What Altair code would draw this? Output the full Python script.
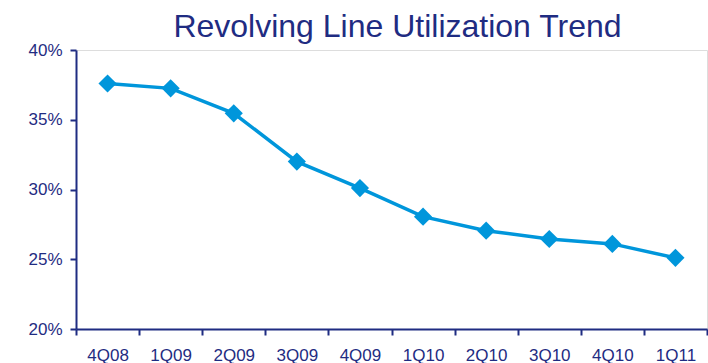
import altair as alt
import pandas as pd

quarters = ["4Q08", "1Q09", "2Q09", "3Q09", "4Q09", "1Q10", "2Q10", "3Q10", "4Q10", "1Q11"]
utilization = [0.376, 0.3725, 0.3546, 0.320, 0.301, 0.2805, 0.2705, 0.2645, 0.261, 0.251]

df = pd.DataFrame({"quarter": quarters, "utilization": utilization})

NAVY = "#1F2C82"
BLUE = "#0096DB"
FONT = "Liberation Sans"

x_enc = alt.X(
    "quarter:N",
    sort=quarters,
    scale=alt.Scale(type="band", paddingInner=0, paddingOuter=0),
    bandPosition=0.5,
    axis=alt.Axis(
        title=None,
        labelAngle=0,
        tickBand="extent",
        domainColor=NAVY,
        domainWidth=2,
        tickColor=NAVY,
        tickWidth=2,
        tickSize=6,
        labelColor=NAVY,
        labelFont=FONT,
        labelFontSize=17,
        labelPadding=12,
        grid=False,
    ),
)

y_enc = alt.Y(
    "utilization:Q",
    scale=alt.Scale(domain=[0.2, 0.4], nice=False, zero=False),
    axis=alt.Axis(
        title=None,
        values=[0.2, 0.25, 0.3, 0.35, 0.4],
        format=".0%",
        domainColor=NAVY,
        domainWidth=2,
        tickColor=NAVY,
        tickWidth=2,
        tickSize=6,
        labelColor=NAVY,
        labelFont=FONT,
        labelFontSize=17,
        labelPadding=8,
        grid=False,
    ),
)

line = alt.Chart(df).mark_line(color=BLUE, strokeWidth=3.5).encode(x=x_enc, y=y_enc)
points = alt.Chart(df).mark_point(
    shape="diamond", filled=True, color=BLUE, opacity=1, size=330
).encode(x=x_enc, y=y_enc)

chart = (
    alt.layer(line, points)
    .properties(
        width=631,
        height=279,
        padding={"left": 76, "top": 50, "right": 1, "bottom": 34},
        autosize=alt.AutoSizeParams(type="none"),
        title=alt.TitleParams(
            "Revolving Line Utilization Trend",
            font=FONT,
            fontSize=32,
            fontWeight="normal",
            color=NAVY,
            anchor="middle",
            dx=6,
            dy=17,
            offset=14,
        ),
    )
    .configure_view(stroke=None)
    .configure(background="white")
)

chart.save("out.html", embed_options={"renderer": "svg", "actions": False})
